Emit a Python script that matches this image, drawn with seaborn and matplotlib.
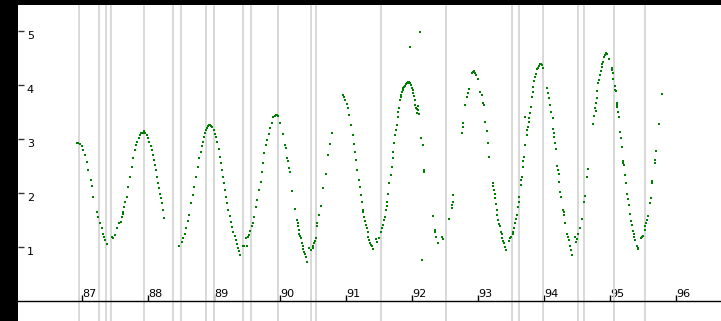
import matplotlib
matplotlib.use("Agg")
import matplotlib.pyplot as plt
import numpy as np
import pandas as pd
import seaborn as sns

# Light curve observations (decimal year, brightness), grouped by observing season
s1_t = [1986.920, 1986.944, 1986.970, 1986.995, 1987.020, 1987.045, 1987.071, 1987.095,
        1987.132, 1987.147, 1987.171, 1987.223, 1987.247, 1987.273, 1987.298, 1987.314,
        1987.333, 1987.348, 1987.374]
s1_v = [2.92, 2.93, 2.91, 2.87, 2.80, 2.70, 2.58, 2.43, 2.24, 2.13, 1.92, 1.65, 1.56, 1.44,
        1.35, 1.25, 1.19, 1.13, 1.05]

s2_t = [1987.450, 1987.465, 1987.500, 1987.535, 1987.565, 1987.586, 1987.602, 1987.617,
        1987.626, 1987.641, 1987.652, 1987.677, 1987.702, 1987.727, 1987.753, 1987.777,
        1987.803, 1987.823, 1987.838, 1987.859, 1987.879, 1987.898, 1987.920, 1987.944,
        1987.962, 1987.980, 1988.000, 1988.020, 1988.038, 1988.056, 1988.073, 1988.091,
        1988.106, 1988.121, 1988.139, 1988.156, 1988.170, 1988.182, 1988.194, 1988.208,
        1988.224, 1988.242]
s2_v = [1.19, 1.16, 1.22, 1.35, 1.44, 1.47, 1.56, 1.62, 1.65, 1.75, 1.84, 1.93, 2.12, 2.30,
        2.48, 2.64, 2.80, 2.89, 2.95, 3.02, 3.07, 3.11, 3.12, 3.14, 3.11, 3.07, 3.02, 2.95,
        2.87, 2.80, 2.70, 2.61, 2.52, 2.43, 2.30, 2.18, 2.09, 1.99, 1.91, 1.81, 1.69, 1.53]

s3_t = [1988.474, 1988.511, 1988.535, 1988.561, 1988.576, 1988.602, 1988.626, 1988.647,
        1988.677, 1988.697, 1988.727, 1988.753, 1988.777, 1988.798, 1988.814, 1988.829,
        1988.848, 1988.864, 1988.879, 1988.897, 1988.914, 1988.927, 1988.939, 1988.958,
        1988.974, 1988.995, 1989.015, 1989.033, 1989.050, 1989.071, 1989.091, 1989.109,
        1989.126, 1989.139, 1989.152, 1989.167, 1989.182, 1989.200, 1989.217, 1989.235,
        1989.253, 1989.273, 1989.292, 1989.314, 1989.333, 1989.352, 1989.368, 1989.382,
        1989.394]
s3_v = [1.02, 1.10, 1.17, 1.25, 1.36, 1.48, 1.59, 1.81, 1.96, 2.12, 2.30, 2.48, 2.64, 2.76,
        2.87, 2.95, 3.04, 3.11, 3.17, 3.21, 3.24, 3.26, 3.26, 3.24, 3.22, 3.17, 3.10, 3.04,
        2.95, 2.81, 2.67, 2.56, 2.43, 2.30, 2.18, 2.06, 1.93, 1.81, 1.69, 1.57, 1.47, 1.37,
        1.28, 1.20, 1.13, 1.06, 0.98, 0.93, 0.86]

s4_t = [1989.444, 1989.462, 1989.485, 1989.495, 1989.515, 1989.535, 1989.553, 1989.571,
        1989.586, 1989.606, 1989.636, 1989.656, 1989.682, 1989.708, 1989.727, 1989.747,
        1989.762, 1989.788, 1989.808, 1989.829, 1989.848, 1989.874, 1989.898, 1989.924,
        1989.944, 1989.959, 1989.970, 1990.000, 1990.041, 1990.076, 1990.091, 1990.111,
        1990.126, 1990.141, 1990.152, 1990.177, 1990.227, 1990.262, 1990.273, 1990.277,
        1990.288, 1990.292, 1990.308, 1990.318, 1990.333, 1990.344, 1990.356, 1990.368,
        1990.382, 1990.394, 1990.414, 1990.444, 1990.465]
s4_v = [1.01, 1.02, 1.16, 1.01, 1.18, 1.22, 1.30, 1.38, 1.44, 1.56, 1.75, 1.87, 2.06, 2.21,
        2.39, 2.55, 2.74, 2.89, 2.98, 3.10, 3.20, 3.30, 3.40, 3.43, 3.44, 3.44, 3.43, 3.30,
        3.10, 2.89, 2.83, 2.64, 2.60, 2.46, 2.38, 2.04, 1.70, 1.50, 1.44, 1.38, 1.31, 1.25,
        1.20, 1.16, 1.07, 1.01, 0.96, 0.91, 0.87, 0.82, 0.73, 0.98, 0.94]

s5_t = [1990.495, 1990.505, 1990.515, 1990.530, 1990.545, 1990.565, 1990.566, 1990.591,
        1990.617, 1990.656, 1990.697, 1990.732, 1990.758, 1990.788, 1990.955, 1990.973,
        1990.985, 1991.008, 1991.026, 1991.050, 1991.076, 1991.101, 1991.121, 1991.136,
        1991.152, 1991.171, 1991.192, 1991.212, 1991.227, 1991.238, 1991.253, 1991.262,
        1991.273, 1991.288, 1991.300, 1991.314, 1991.326, 1991.338, 1991.352, 1991.364,
        1991.379, 1991.389, 1991.405, 1991.455, 1991.474, 1991.505]
s5_v = [1.01, 0.98, 1.07, 1.11, 1.16, 1.38, 1.44, 1.59, 1.76, 2.09, 2.36, 2.70, 2.91, 3.12,
        3.81, 3.77, 3.72, 3.65, 3.57, 3.44, 3.26, 3.07, 2.91, 2.76, 2.61, 2.43, 2.24, 2.11,
        1.96, 1.84, 1.69, 1.65, 1.56, 1.48, 1.41, 1.35, 1.28, 1.19, 1.13, 1.08, 1.04, 1.01,
        0.96, 1.14, 1.10, 1.16]

s6_t = [1991.526, 1991.541, 1991.556, 1991.576, 1991.591, 1991.606, 1991.617, 1991.626,
        1991.641, 1991.656, 1991.677, 1991.692, 1991.708, 1991.717, 1991.732, 1991.747,
        1991.758, 1991.768, 1991.783, 1991.792, 1991.803, 1991.818, 1991.829, 1991.838,
        1991.848, 1991.859, 1991.871, 1991.883, 1991.897, 1991.909, 1991.924, 1991.935,
        1991.947, 1991.959, 1991.973, 1991.985, 1992.000, 1992.011, 1992.020, 1992.030,
        1992.038, 1992.045, 1992.061, 1992.071, 1992.080, 1992.095, 1992.091, 1992.106,
        1991.970, 1992.121, 1992.132, 1992.162, 1992.186, 1992.189, 1992.146, 1992.314,
        1992.344, 1992.352, 1992.364, 1992.389, 1992.450, 1992.465]
s6_v = [1.28, 1.35, 1.41, 1.50, 1.56, 1.69, 1.76, 1.84, 1.99, 2.18, 2.33, 2.49, 2.64, 2.76,
        2.92, 3.07, 3.17, 3.26, 3.41, 3.50, 3.57, 3.72, 3.78, 3.81, 3.87, 3.91, 3.94, 3.97,
        3.99, 4.01, 4.03, 4.04, 4.06, 4.06, 4.04, 4.00, 3.95, 3.91, 3.85, 3.80, 3.72, 3.63,
        3.57, 3.55, 3.49, 3.61, 3.54, 3.46, 4.70, 4.99, 3.01, 2.88, 2.43, 2.38, 0.76, 1.57,
        1.31, 1.27, 1.19, 1.08, 1.18, 1.14]

s7_t = [1992.565, 1992.602, 1992.611, 1992.617, 1992.626, 1992.753, 1992.768, 1992.769,
        1992.808, 1992.829, 1992.844, 1992.859, 1992.909, 1992.924, 1992.939, 1992.955,
        1992.970, 1993.005, 1993.030, 1993.056, 1993.071, 1993.091, 1993.111, 1993.132,
        1993.156, 1993.171, 1993.223, 1993.232, 1993.242, 1993.253, 1993.258, 1993.273,
        1993.288, 1993.293, 1993.308, 1993.323, 1993.333, 1993.348, 1993.359, 1993.368,
        1993.382, 1993.394, 1993.409, 1993.420, 1993.474, 1993.488, 1993.500]
s7_v = [1.51, 1.72, 1.78, 1.84, 1.96, 3.12, 3.22, 3.30, 3.63, 3.78, 3.86, 3.92, 4.22, 4.24,
        4.25, 4.22, 4.19, 4.11, 3.87, 3.81, 3.66, 3.63, 3.32, 3.15, 2.92, 2.66, 2.18, 2.13,
        2.06, 1.98, 1.90, 1.80, 1.69, 1.59, 1.50, 1.43, 1.38, 1.28, 1.24, 1.16, 1.11, 1.07,
        1.00, 0.94, 1.12, 1.16, 1.19]

s8_t = [1993.523, 1993.535, 1993.545, 1993.561, 1993.576, 1993.586, 1993.602, 1993.614,
        1993.626, 1993.647, 1993.655, 1993.662, 1993.677, 1993.686, 1993.697, 1993.717,
        1993.718, 1993.738, 1993.745, 1993.753, 1993.768, 1993.777, 1993.788, 1993.803,
        1993.814, 1993.826, 1993.838, 1993.853, 1993.867, 1993.879, 1993.898, 1993.909,
        1993.920, 1993.935, 1993.950, 1993.962, 1993.974, 1993.989, 1994.050, 1994.065,
        1994.080, 1994.095, 1994.106, 1994.132, 1994.141, 1994.147, 1994.152, 1994.167,
        1994.177, 1994.202, 1994.212, 1994.223, 1994.232, 1994.247, 1994.262, 1994.292,
        1994.298, 1994.308, 1994.323, 1994.353, 1994.364, 1994.374, 1994.394, 1994.409,
        1994.429, 1994.470, 1994.485, 1994.495]
s8_v = [1.24, 1.28, 1.35, 1.44, 1.52, 1.59, 1.75, 1.83, 1.93, 2.15, 2.24, 2.30, 2.49, 2.59,
        2.67, 2.89, 3.41, 3.07, 3.17, 3.23, 3.32, 3.39, 3.48, 3.60, 3.78, 3.87, 3.97, 4.08,
        4.15, 4.20, 4.29, 4.32, 4.35, 4.38, 4.39, 4.39, 4.37, 4.32, 3.95, 3.86, 3.75, 3.63,
        3.50, 3.38, 3.19, 3.12, 3.04, 2.92, 2.82, 2.50, 2.43, 2.36, 2.21, 2.01, 1.93, 1.69,
        1.64, 1.59, 1.44, 1.25, 1.19, 1.13, 1.01, 0.94, 0.85, 1.19, 1.10, 1.14]

s9_t = [1994.520, 1994.545, 1994.580, 1994.606, 1994.621, 1994.656, 1994.671, 1994.747,
        1994.758, 1994.773, 1994.783, 1994.788, 1994.798, 1994.808, 1994.823, 1994.838,
        1994.848, 1994.859, 1994.874, 1994.886, 1994.898, 1994.909, 1994.924, 1994.939,
        1994.959, 1994.985, 1995.030, 1995.038, 1995.041, 1995.050]
s9_v = [1.25, 1.35, 1.51, 1.83, 1.95, 2.29, 2.44, 3.27, 3.43, 3.58, 3.51, 3.66, 3.75, 3.89,
        4.04, 4.09, 4.19, 4.26, 4.34, 4.39, 4.43, 4.52, 4.56, 4.59, 4.57, 4.48, 4.32, 4.28,
        4.22, 4.12]

s10_t = [1995.076, 1995.080, 1995.086, 1995.101, 1995.106, 1995.111, 1995.126, 1995.141,
         1995.152, 1995.167, 1995.186, 1995.202, 1995.203, 1995.212, 1995.227, 1995.242,
         1995.262, 1995.277, 1995.292, 1995.303, 1995.318, 1995.333, 1995.353, 1995.359,
         1995.368, 1995.383, 1995.414, 1995.424, 1995.429, 1995.470, 1995.485, 1995.505]
s10_v = [3.98, 3.91, 3.89, 3.67, 3.63, 3.59, 3.50, 3.41, 3.13, 3.02, 2.86, 2.60, 2.56, 2.51,
         2.34, 2.18, 1.99, 1.88, 1.78, 1.61, 1.48, 1.40, 1.29, 1.24, 1.19, 1.13, 1.02, 0.98,
         0.96, 1.16, 1.18, 1.20]

s11_t = [1995.530, 1995.538, 1995.545, 1995.556, 1995.580, 1995.606, 1995.621, 1995.636,
         1995.637, 1995.682, 1995.683, 1995.697, 1995.742, 1995.788]
s11_v = [1.31, 1.39, 1.45, 1.50, 1.58, 1.81, 1.91, 2.18, 2.22, 2.55, 2.62, 2.77, 3.27, 3.83]

# Dates marking observing-season boundaries
season_edges = [1986.955, 1987.258, 1987.364, 1987.439, 1987.939, 1988.379, 1988.505,
                1988.883, 1989.000, 1989.439, 1989.561, 1989.970, 1990.477, 1990.553,
                1991.526, 1992.511, 1993.515, 1993.621, 1993.985, 1994.511, 1994.606,
                1995.068, 1995.523]

year_ticks = [1987, 1988, 1989, 1990, 1991, 1992, 1993, 1994, 1995, 1996]
year_labels = ["87", "88", "89", "90", "91", "92", "93", "94", "95", "96"]
value_ticks = [1, 2, 3, 4, 5]

times = s1_t + s2_t + s3_t + s4_t + s5_t + s6_t + s7_t + s8_t + s9_t + s10_t + s11_t
values = s1_v + s2_v + s3_v + s4_v + s5_v + s6_v + s7_v + s8_v + s9_v + s10_v + s11_v
df = pd.DataFrame({"year": times, "value": values})

sns.set_theme(style="white")
plt.rcParams["font.family"] = ["DejaVu Sans"]

W, H = 721, 321
fig = plt.figure(figsize=(W / 100, H / 100), dpi=100, facecolor="black")
ax = fig.add_axes([18 / W, 0, (W - 18) / W, (H - 5) / H])
ax.set_facecolor("white")

for e in season_edges:
    ax.axvline(e, color="#d6d6d6", lw=1.3, zorder=1)

sns.scatterplot(data=df, x="year", y="value", ax=ax, marker="s", s=4.2,
                color="#008000", linewidth=0, zorder=3, legend=False)

ax.set_xlim(1986.0303, 1996.682)
ax.set_ylim(-0.370, 5.481)
ax.set_xlabel("")
ax.set_ylabel("")

for side in ["top", "right", "left"]:
    ax.spines[side].set_visible(False)
ax.spines["bottom"].set_position(("data", 0))
ax.spines["bottom"].set_color("black")
ax.spines["bottom"].set_linewidth(1.0)
ax.spines["bottom"].set_zorder(4)

ax.set_xticks(year_ticks, labels=year_labels)
ax.set_yticks(value_ticks, labels=[str(v) for v in value_ticks])
ax.tick_params(axis="x", direction="in", length=4, width=1, color="black",
               pad=-3, labelsize=8, labelcolor="black", bottom=True)
ax.tick_params(axis="y", direction="in", length=4, width=1, color="#333333",
               pad=-6.3, labelsize=8, labelcolor="black", left=True)
plt.setp(ax.get_xticklabels(), ha="left", va="baseline")
plt.setp(ax.get_yticklabels(), ha="left", va="top")
ax.grid(False)

fig.savefig("out.png", dpi=100, facecolor="black")
